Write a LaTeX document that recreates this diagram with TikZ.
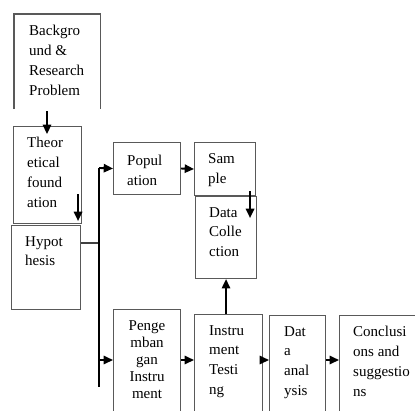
\documentclass[tikz,border=0pt]{standalone}
\usepackage{fontspec}
\setmainfont{Liberation Serif}
\usetikzlibrary{arrows.meta}

\tikzset{
  box/.style={draw=black!65,line width=.9pt,anchor=north west,inner sep=0},
  txt/.style={anchor=north west,align=left,inner sep=0,xshift=4.2mm,yshift=-3.3mm,
    font=\fontsize{12.8}{17}\selectfont},
  ctxt/.style={anchor=north,align=center,inner sep=0,yshift=-3.3mm,
    font=\fontsize{12.8}{14.5}\selectfont},
  arr/.style={line width=1.6pt,-{Triangle[length=2.8mm,width=2.5mm]}},
}

\begin{document}
\begin{tikzpicture}[x=.3mm,y=-.3mm]
  \useasboundingbox (0,0) rectangle (415,410);
  \clip (0,0) rectangle (415,410);
  % left column
  \node[box,draw=none,minimum width=25.5mm,minimum height=28.2mm] (bg) at (14,14) {};
  \draw[black!65,line width=.9pt] (bg.south west) |- (bg.north east) -- (bg.south east);
  \node[txt,xshift=.3mm] (bg-t) at (bg.north west) {Backgro\\und \&\\Research\\Problem};
  \node[box,minimum width=20.4mm,minimum height=29.1mm] (theo) at (13,126) {};
  \node[txt] (theo-t) at (theo.north west) {Theor\\etical\\found\\ation};
  \node[box,minimum width=20.7mm,minimum height=25.2mm] (hyp) at (11,225) {};
  \node[txt] (hyp-t) at (hyp.north west) {Hypot\\hesis};
  % upper row
  \node[box,minimum width=20.1mm,minimum height=15.6mm] (pop) at (113,142) {};
  \node[txt,yshift=-.6mm] (pop-t) at (pop.north west) {Popul\\ation};
  \node[box,minimum width=18.3mm,minimum height=15.9mm] (samp) at (194,142) {};
  \node[txt] (samp-t) at (samp.north west) {Sam\\ple};
  \node[box,minimum width=18.3mm,minimum height=24.6mm] (coll) at (195,196) {};
  \node[txt] (coll-t) at (coll.north west) {Data\\Colle\\ction};
  % lower row
  \node[box,minimum width=20.1mm,minimum height=36.3mm] (peng) at (113,309) {};
  \node[ctxt] (peng-t) at (peng.north) {Penge\\mban\\gan\\Instru\\ment};
  \node[box,minimum width=20.4mm,minimum height=34.8mm] (test) at (194,314) {};
  \node[txt,xshift=.3mm] (test-t) at (test.north west) {Instru\\ment\\Testi\\ng};
  \node[box,minimum width=16.8mm,minimum height=34.5mm] (anal) at (269,315) {};
  \node[txt,xshift=.3mm] (anal-t) at (anal.north west) {Dat\\a\\anal\\ysis};
  \node[box,minimum width=24.3mm,minimum height=34.5mm] (concl) at (339,315) {};
  \node[txt] (concl-t) at (concl.north west) {Conclusi\\ons and\\suggestio\\ns};
  % connectors
  \coordinate (bt) at (99,168);
  \coordinate (bb) at (99,387);
  \coordinate (row) at (0,360);
  \draw[arr] (bg.south west) ++(33,2) -- ++(0,23);
  \draw[arr] (theo.south east) ++(-4,-30) -- ++(0,27);
  \draw[black!75,line width=1.1pt] (hyp.north east) ++(0,18) -- ++(19,0);
  \draw[line width=1.6pt] (bt) -- (bb);
  \draw[arr] (bt) -- (pop.west);
  \draw[arr] (pop.east) -- (samp.west);
  \draw[arr] (samp.south east) ++(-6,-5) -- ++(0,27);
  \draw[arr] (test.north -| coll.south) -- (coll.south);
  \draw[arr] (row -| bt) -- (row -| peng.west);
  \draw[arr] (row -| peng.east) -- (row -| test.west);
  \draw[arr] (row -| test.east) -- (row -| anal.west);
  \draw[arr] (row -| anal.east) -- (row -| concl.west);
\end{tikzpicture}
\end{document}
